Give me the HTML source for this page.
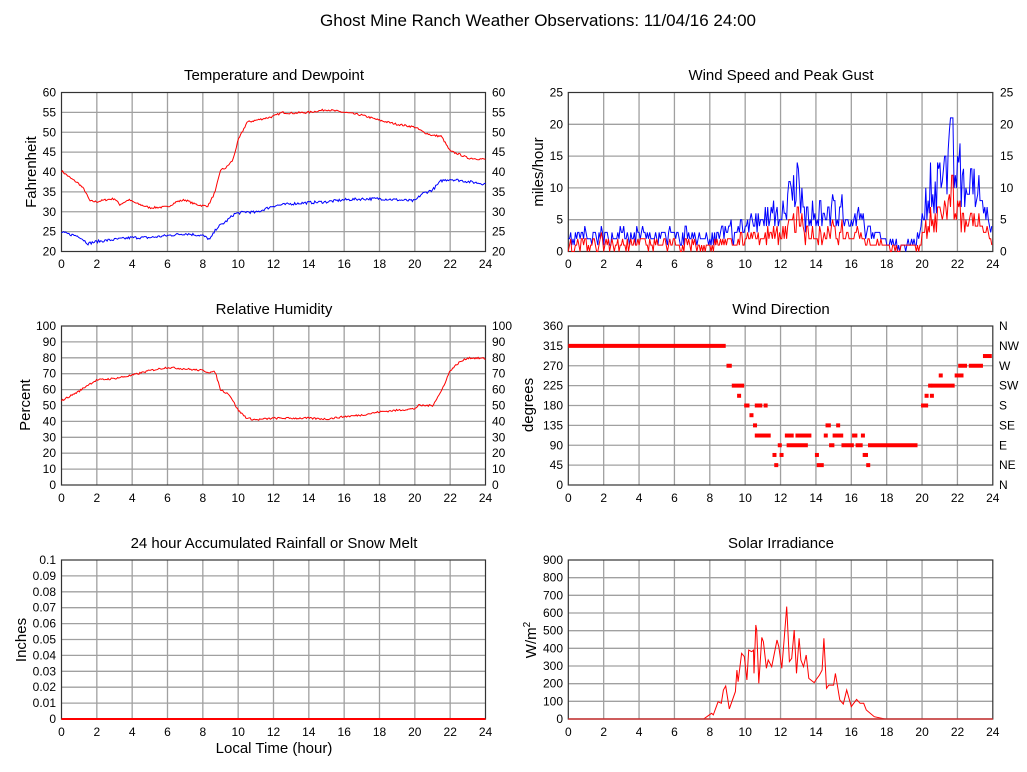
<!DOCTYPE html>
<html><head><meta charset="utf-8">
<style>
html,body{margin:0;padding:0;background:#fff;}
svg{display:block;font-family:"Liberation Sans",sans-serif;}
.t{font-size:12px;fill:#000}
.ti{font-size:15px;fill:#000}
</style></head>
<body>
<svg id="s" width="1027" height="772" xmlns="http://www.w3.org/2000/svg">
<rect width="1027" height="772" fill="#fff"/>
<text x="538" y="26" text-anchor="middle" style="font-size:17px">Ghost Mine Ranch Weather Observations: 11/04/16 24:00</text>

<g id="grids"></g>
<g id="data"></g>

<!-- Panel titles -->
<text class="ti" x="274" y="80" text-anchor="middle">Temperature and Dewpoint</text>
<text class="ti" x="781" y="80" text-anchor="middle">Wind Speed and Peak Gust</text>
<text class="ti" x="274" y="314" text-anchor="middle">Relative Humidity</text>
<text class="ti" x="781" y="314" text-anchor="middle">Wind Direction</text>
<text class="ti" x="274" y="548" text-anchor="middle">24 hour Accumulated Rainfall or Snow Melt</text>
<text class="ti" x="781" y="548" text-anchor="middle">Solar Irradiance</text>

<!-- Y axis labels -->
<text class="ti" transform="translate(36,172) rotate(-90)" text-anchor="middle">Fahrenheit</text>
<text class="ti" transform="translate(543,172) rotate(-90)" text-anchor="middle">miles/hour</text>
<text class="ti" transform="translate(30,405) rotate(-90)" text-anchor="middle">Percent</text>
<text class="ti" transform="translate(533,405) rotate(-90)" text-anchor="middle">degrees</text>
<text class="ti" transform="translate(26,640) rotate(-90)" text-anchor="middle">Inches</text>
<text class="ti" transform="translate(536,640) rotate(-90)" text-anchor="middle">W/m<tspan dy="-6" style="font-size:10px">2</tspan></text>
<text class="ti" x="274" y="753" text-anchor="middle">Local Time (hour)</text>

<!-- X tick labels: left panels -->
<g class="t" text-anchor="middle">
<g id="xl1" transform="translate(0,268)">
<text x="61.5">0</text><text x="96.8">2</text><text x="132.2">4</text><text x="167.5">6</text><text x="202.8">8</text><text x="238.2">10</text><text x="273.5">12</text><text x="308.8">14</text><text x="344.2">16</text><text x="379.5">18</text><text x="414.8">20</text><text x="450.2">22</text><text x="485.5">24</text>
</g>
<g transform="translate(0,502)">
<text x="61.5">0</text><text x="96.8">2</text><text x="132.2">4</text><text x="167.5">6</text><text x="202.8">8</text><text x="238.2">10</text><text x="273.5">12</text><text x="308.8">14</text><text x="344.2">16</text><text x="379.5">18</text><text x="414.8">20</text><text x="450.2">22</text><text x="485.5">24</text>
</g>
<g transform="translate(0,736)">
<text x="61.5">0</text><text x="96.8">2</text><text x="132.2">4</text><text x="167.5">6</text><text x="202.8">8</text><text x="238.2">10</text><text x="273.5">12</text><text x="308.8">14</text><text x="344.2">16</text><text x="379.5">18</text><text x="414.8">20</text><text x="450.2">22</text><text x="485.5">24</text>
</g>
<g transform="translate(0,268)">
<text x="568.3">0</text><text x="603.7">2</text><text x="639.1">4</text><text x="674.5">6</text><text x="709.8">8</text><text x="745.2">10</text><text x="780.6">12</text><text x="816">14</text><text x="851.3">16</text><text x="886.7">18</text><text x="922.1">20</text><text x="957.5">22</text><text x="992.8">24</text>
</g>
<g transform="translate(0,502)">
<text x="568.3">0</text><text x="603.7">2</text><text x="639.1">4</text><text x="674.5">6</text><text x="709.8">8</text><text x="745.2">10</text><text x="780.6">12</text><text x="816">14</text><text x="851.3">16</text><text x="886.7">18</text><text x="922.1">20</text><text x="957.5">22</text><text x="992.8">24</text>
</g>
<g transform="translate(0,736)">
<text x="568.3">0</text><text x="603.7">2</text><text x="639.1">4</text><text x="674.5">6</text><text x="709.8">8</text><text x="745.2">10</text><text x="780.6">12</text><text x="816">14</text><text x="851.3">16</text><text x="886.7">18</text><text x="922.1">20</text><text x="957.5">22</text><text x="992.8">24</text>
</g>
</g>

<!-- Y tick labels -->
<g class="t" text-anchor="end">
<text x="56" y="96.5">60</text><text x="56" y="116.4">55</text><text x="56" y="136.3">50</text><text x="56" y="156.1">45</text><text x="56" y="176">40</text><text x="56" y="195.9">35</text><text x="56" y="215.8">30</text><text x="56" y="235.6">25</text><text x="56" y="255.5">20</text>
<text x="563" y="96.5">25</text><text x="563" y="128.3">20</text><text x="563" y="160.1">15</text><text x="563" y="191.9">10</text><text x="563" y="223.7">5</text><text x="563" y="255.5">0</text>
<text x="56" y="330">100</text><text x="56" y="345.9">90</text><text x="56" y="361.8">80</text><text x="56" y="377.7">70</text><text x="56" y="393.6">60</text><text x="56" y="409.5">50</text><text x="56" y="425.4">40</text><text x="56" y="441.3">30</text><text x="56" y="457.2">20</text><text x="56" y="473.1">10</text><text x="56" y="489">0</text>
<text x="563" y="330">360</text><text x="563" y="349.9">315</text><text x="563" y="369.8">270</text><text x="563" y="389.6">225</text><text x="563" y="409.5">180</text><text x="563" y="429.4">135</text><text x="563" y="449.3">90</text><text x="563" y="469.1">45</text><text x="563" y="489">0</text>
<text x="56" y="564">0.1</text><text x="56" y="579.9">0.09</text><text x="56" y="595.8">0.08</text><text x="56" y="611.7">0.07</text><text x="56" y="627.6">0.06</text><text x="56" y="643.5">0.05</text><text x="56" y="659.4">0.04</text><text x="56" y="675.3">0.03</text><text x="56" y="691.2">0.02</text><text x="56" y="707.1">0.01</text><text x="56" y="723">0</text>
<text x="563" y="564">900</text><text x="563" y="581.7">800</text><text x="563" y="599.3">700</text><text x="563" y="617">600</text><text x="563" y="634.7">500</text><text x="563" y="652.3">400</text><text x="563" y="670">300</text><text x="563" y="687.7">200</text><text x="563" y="705.3">100</text><text x="563" y="723">0</text>
</g>
<g class="t" text-anchor="start">
<text x="492" y="96.5">60</text><text x="492" y="116.4">55</text><text x="492" y="136.3">50</text><text x="492" y="156.1">45</text><text x="492" y="176">40</text><text x="492" y="195.9">35</text><text x="492" y="215.8">30</text><text x="492" y="235.6">25</text><text x="492" y="255.5">20</text>
<text x="1000" y="96.5">25</text><text x="1000" y="128.3">20</text><text x="1000" y="160.1">15</text><text x="1000" y="191.9">10</text><text x="1000" y="223.7">5</text><text x="1000" y="255.5">0</text>
<text x="492" y="330">100</text><text x="492" y="345.9">90</text><text x="492" y="361.8">80</text><text x="492" y="377.7">70</text><text x="492" y="393.6">60</text><text x="492" y="409.5">50</text><text x="492" y="425.4">40</text><text x="492" y="441.3">30</text><text x="492" y="457.2">20</text><text x="492" y="473.1">10</text><text x="492" y="489">0</text>
<text x="999" y="330">N</text><text x="999" y="349.9">NW</text><text x="999" y="369.8">W</text><text x="999" y="389.6">SW</text><text x="999" y="409.5">S</text><text x="999" y="429.4">SE</text><text x="999" y="449.3">E</text><text x="999" y="469.1">NE</text><text x="999" y="489">N</text>
</g>
</svg>
<script>
(function(){
var NS="http://www.w3.org/2000/svg";
var G=document.getElementById("grids"),D=document.getElementById("data");
function el(p,n,a){var e=document.createElementNS(NS,n);for(var k in a)e.setAttribute(k,a[k]);p.appendChild(e);return e;}
var P=[
 {x:61.5,y:92.5,w:424,h:159,min:20,max:60,n:8},
 {x:568.3,y:92.5,w:424.5,h:159,min:0,max:25,n:5},
 {x:61.5,y:326,w:424,h:159,min:0,max:100,n:10},
 {x:568.3,y:326,w:424.5,h:159,min:0,max:360,n:8},
 {x:61.5,y:560,w:424,h:159,min:0,max:0.1,n:10},
 {x:568.3,y:560,w:424.5,h:159,min:0,max:900,n:9}
];
P.forEach(function(p){
 for(var i=1;i<12;i++){var x=p.x+p.w*i/12;el(G,"line",{x1:x,x2:x,y1:p.y,y2:p.y+p.h,stroke:"#a0a0a0","stroke-width":1.3});}
 for(var j=1;j<p.n;j++){var y=p.y+p.h*j/p.n;el(G,"line",{x1:p.x,x2:p.x+p.w,y1:y,y2:y,stroke:"#a0a0a0","stroke-width":1.3});}
 el(G,"rect",{x:p.x,y:p.y,width:p.w,height:p.h,fill:"none",stroke:"#333","stroke-width":1.2});
});
var seed=7;function rnd(){seed=(seed*16807)%2147483647;return seed/2147483647;}
function interp(pts,t){for(var i=0;i<pts.length-1;i++){if(t<=pts[i+1][0]){var a=pts[i],b=pts[i+1];return a[1]+(b[1]-a[1])*(t-a[0])/(b[0]-a[0]);}}return pts[pts.length-1][1];}
function X(p,t){return p.x+p.w*t/24;}
function Y(p,v){return p.y+p.h*(1-(v-p.min)/(p.max-p.min));}
function line(p,arr,col,w){var s=arr.map(function(a){return X(p,a[0]).toFixed(1)+","+Y(p,Math.max(p.min,Math.min(p.max,a[1]))).toFixed(1);}).join(" ");el(D,"polyline",{points:s,fill:"none",stroke:col,"stroke-width":w||1});}
function series(pts,noise,step){var r=[];for(var t=0;t<=24.001;t+=step){r.push([t,interp(pts,t)+(rnd()-0.5)*noise]);}return r;}
// Temp
var T=[[0,40.3],[0.5,38.5],[1,37],[1.3,35.5],[1.6,32.7],[2,32.5],[2.5,33],[3,33.3],[3.3,31.8],[3.8,33],[4.3,32],[5,31],[6,31.2],[6.5,32.5],[7,33],[7.5,32],[8,31.5],[8.3,31.5],[8.7,35],[9,40.5],[9.3,41],[9.7,43],[10,48],[10.5,52.5],[11,53],[12,54],[12.5,55],[13,54.8],[14,55],[15,55.7],[16,55],[17,54.3],[18,53],[19,52],[20,51.3],[20.5,50],[21,49.2],[21.5,49],[22,45.2],[22.5,44.5],[23,43.5],[24,43.2]];
line(P[0],series(T,0.5,0.06),"#ff0000");
var Dw=[[0,24.8],[1,23.8],[1.5,22],[2,22.5],[3,23],[4,23.5],[5,23.5],[6,24],[7,24.5],[8,24],[8.4,23],[8.8,26],[9.3,27.5],[9.8,29.5],[10.5,30],[11,29.8],[12,31.5],[13,32],[14,32.3],[15,32.5],[16,33],[17,33.2],[18,33.3],[19,33],[20,32.7],[20.4,34.5],[21,35.5],[21.5,37.8],[22,38.2],[23,37.6],[24,37]];
line(P[0],series(Dw,0.7,0.06),"#0000ff");
// Wind
var env=[[0,2.5],[4,2.5],[8,2],[9,3],[10,4],[12,6],[13,9],[13.5,6],[15,6],[16.5,5],[17,3],[18,1.5],[19,0.5],[19.8,2],[20.3,8],[21,11],[21.5,13],[21.7,18],[22,12],[23,9],[24,2.5]];
var gust=[],spd=[];
for(var t=0;t<=24.001;t+=0.0667){var e=interp(env,t);var g=Math.max(0,Math.round(e+(rnd()-0.45)*e*0.9+(rnd()-0.5)*1.5));gust.push([t,g]);spd.push([t,Math.max(0,Math.round(g*0.5+(rnd()-0.6)*1.5))]);}
gust.forEach(function(a){if(a[0]>21.55&&a[0]<21.75)a[1]=21;});
line(P[1],gust,"#0000ff");line(P[1],spd,"#ff0000");
// RH
var RH=[[0,53],[0.5,56],[1,59],[1.5,63],[2,66],[3,67],[4,69],[5,72],[6,74],[7,73],[8,72],[8.3,71],[8.7,71],[9,60],[9.5,57],[10,47],[10.5,42],[11,41],[12,42],[13,42],[14,42],[15,41.5],[16,43],[17,44],[18,46],[19,47],[20,48],[20.2,50],[21,50],[21.5,59],[22,72],[22.5,77],[23,80],[24,79.5]];
line(P[2],series(RH,1.2,0.06),"#ff0000");
// Wind dir
var p3=P[3];
el(D,"rect",{x:X(p3,0),y:Y(p3,315)-2,width:X(p3,8.9)-X(p3,0),height:4,fill:"#ff0000"});
var dd=[[9,9.3,270],[9.3,10,225],[9.6,9.7,202],[10,10.3,180],[10.3,10.5,158],[10.5,10.6,135],[10.6,11.5,112],[10.6,10.9,180],[10.8,10.9,180],[11.1,11.3,180],[11.6,11.7,68],[11.7,11.8,45],[11.9,12.0,90],[12,12.1,68],[12.3,12.8,112],[12.4,13.6,90],[12.9,13.8,112],[14,14.1,68],[14.1,14.5,45],[14.5,14.6,112],[14.6,14.9,135],[14.8,15.1,90],[15,15.6,112],[15.2,15.3,135],[15.5,16.2,90],[16.1,16.4,112],[16.3,16.7,90],[16.6,16.7,112],[16.7,17.0,68],[16.9,17.0,45],[17.0,19.8,90],[20,20.4,180],[20.2,20.3,202],[20.4,20.6,225],[20.5,20.6,202],[20.6,21.9,225],[21,21.1,248],[21.9,22.4,248],[22.1,22.6,270],[22.7,23.5,270],[23.5,24,292]];
dd.forEach(function(a){el(D,"rect",{x:X(p3,a[0])-1,y:Y(p3,a[2])-2,width:Math.max(4,X(p3,a[1])-X(p3,a[0])),height:4,fill:"#ff0000"});});
// Rain
line(P[4],[[0,0],[24,0]],"#ff0000",2);
// Solar
var S=[[0,0],[7.65,0],[8.1,32],[8.2,23],[8.47,98],[8.65,89],[8.77,164],[8.9,187],[9.1,57],[9.45,155],[9.53,277],[9.6,211],[9.8,372],[9.95,353],[10.1,221],[10.2,390],[10.37,381],[10.47,390],[10.5,258],[10.6,532],[10.65,504],[10.77,202],[10.94,462],[11.03,437],[11.2,287],[11.3,334],[11.5,296],[11.8,447],[11.9,410],[12.07,287],[12.2,447],[12.35,636],[12.5,325],[12.63,343],[12.77,504],[12.9,258],[13.05,457],[13.15,334],[13.3,296],[13.45,362],[13.6,230],[13.9,206],[14.0,221],[14.2,249],[14.35,277],[14.45,457],[14.6,174],[14.73,192],[15.0,192],[15.1,258],[15.35,108],[15.55,85],[15.74,164],[16.0,70],[16.3,111],[16.5,89],[16.7,89],[16.85,51],[17.3,13],[17.9,0],[24,0]];
line(P[5],S,"#ff0000");
el(D,"line",{x1:X(P[5],0),x2:X(P[5],24),y1:Y(P[5],0),y2:Y(P[5],0),stroke:"#cc3333","stroke-width":1.5});
})();
</script>
</body></html>
